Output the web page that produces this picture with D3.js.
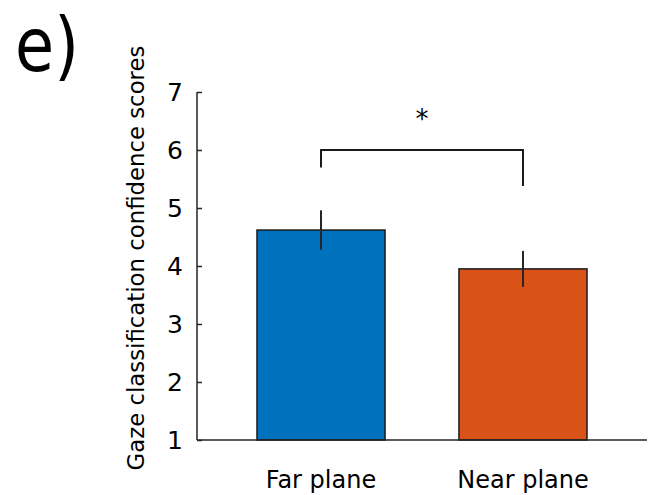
<!DOCTYPE html>
<html>
<head>
<meta charset="utf-8">
<script src="https://cdn.jsdelivr.net/npm/d3@7"></script>
<style>
  body { margin: 0; background: #fff; }
  text { font-family: "DejaVu Sans", Verdana, sans-serif; fill: #000; }
</style>
</head>
<body>
<div id="chart"></div>
<script>
// values
var categories = ["Far plane", "Near plane"];
var means = [4.62, 3.95];
var errors = [0.34, 0.31];
var yTicks = [1, 2, 3, 4, 5, 6, 7];
var yLabel = "Gaze classification confidence scores";
var panelLabel = "e)";
// significance bracket: top level and where each leg ends
var sigTop = 6;
var sigLegs = [5.7, 5.38];
var sigMark = "*";

var colors = ["#0072BD", "#D95319"];

var W = 656, H = 495;
var svg = d3.select("#chart").append("svg").attr("width", W).attr("height", H);

var x = d3.scaleBand().domain(categories).range([197, 647])
  .paddingInner(0.366).paddingOuter(0.297);
var y = d3.scaleLinear().domain([1, 7]).range([440, 92]);

var data = categories.map(function(c, i) {
  return { name: c, mean: means[i], err: errors[i], color: colors[i] };
});

// bars
svg.selectAll("rect.bar").data(data).enter().append("rect")
  .attr("class", "bar")
  .attr("x", function(d) { return x(d.name); })
  .attr("width", x.bandwidth())
  .attr("y", function(d) { return y(d.mean); })
  .attr("height", function(d) { return y(1) - y(d.mean); })
  .attr("fill", function(d) { return d.color; })
  .attr("stroke", "#1a1a1a")
  .attr("stroke-width", 1.5);

// error bars (no caps)
svg.selectAll("line.err").data(data).enter().append("line")
  .attr("class", "err")
  .attr("x1", function(d) { return x(d.name) + x.bandwidth() / 2; })
  .attr("x2", function(d) { return x(d.name) + x.bandwidth() / 2; })
  .attr("y1", function(d) { return y(d.mean + d.err); })
  .attr("y2", function(d) { return y(d.mean - d.err); })
  .attr("stroke", "#262626")
  .attr("stroke-width", 2);

// y axis, ticks pointing inward
var yAxis = d3.axisRight(y).tickValues(yTicks).tickSize(5).tickFormat("");
var gy = svg.append("g").attr("transform", "translate(197,0)").call(yAxis);
gy.select(".domain").attr("d", "M0," + y(7) + "V" + y(1)).attr("stroke", "#262626").attr("stroke-width", 1.5);
gy.selectAll(".tick line").attr("stroke", "#262626").attr("stroke-width", 1.5);

svg.selectAll("text.ytick").data(yTicks).enter().append("text")
  .attr("class", "ytick")
  .attr("x", 183)
  .attr("y", function(d) { return y(d); })
  .attr("dy", "0.36em")
  .attr("text-anchor", "end")
  .style("font-size", "25px")
  .text(function(d) { return d; });

// x axis line, no ticks
svg.append("line")
  .attr("x1", 197).attr("x2", 647)
  .attr("y1", y(1)).attr("y2", y(1))
  .attr("stroke", "#262626").attr("stroke-width", 1.5);

svg.selectAll("text.xlab").data(categories).enter().append("text")
  .attr("class", "xlab")
  .attr("x", function(d) { return x(d) + x.bandwidth() / 2; })
  .attr("y", 488)
  .attr("text-anchor", "middle")
  .style("font-size", "24px")
  .text(function(d) { return d; });

// y label
svg.append("text")
  .attr("transform", "translate(144,258) rotate(-90)")
  .attr("text-anchor", "middle")
  .style("font-size", "22.8px")
  .text(yLabel);

// panel label
svg.append("text")
  .attr("transform", "translate(15,71) scale(0.86,1)")
  .style("font-size", "74px")
  .text(panelLabel);

// significance bracket
var cx = categories.map(function(c) { return x(c) + x.bandwidth() / 2; });
svg.append("path")
  .attr("d", "M" + cx[0] + "," + y(sigLegs[0]) + "V" + y(sigTop) + "H" + cx[1] + "V" + y(sigLegs[1]))
  .attr("fill", "none")
  .attr("stroke", "#1a1a1a")
  .attr("stroke-width", 2);

svg.append("text")
  .attr("x", (cx[0] + cx[1]) / 2)
  .attr("y", 128)
  .attr("text-anchor", "middle")
  .style("font-size", "26px")
  .text(sigMark);
</script>
</body>
</html>
